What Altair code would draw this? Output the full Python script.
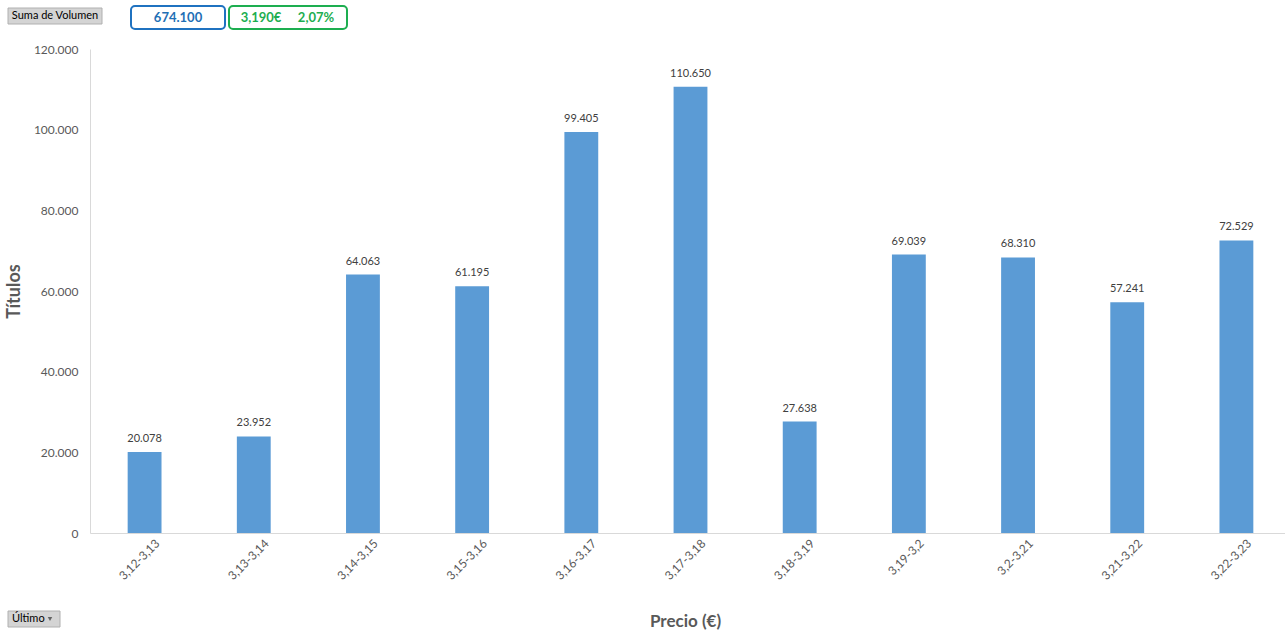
import altair as alt
import pandas as pd

categories = ["3,12-3,13", "3,13-3,14", "3,14-3,15", "3,15-3,16", "3,16-3,17", "3,17-3,18",
              "3,18-3,19", "3,19-3,2", "3,2-3,21", "3,21-3,22", "3,22-3,23"]
volumes = [20078, 23952, 64063, 61195, 99405, 110650, 27638, 69039, 68310, 57241, 72529]
total_label = "674.100"
price_label = "3,190€"
change_label = "2,07%"

df = pd.DataFrame({
    "cat": categories,
    "vol": volumes,
    "lbl": [f"{v:,}".replace(",", ".") for v in volumes],
})

FONT = "Lato"
ox, oy = 90, 49
W, H = 1195, 484

x_enc = alt.X("cat:N", sort=categories, title="Precio (€)",
              scale=alt.Scale(paddingInner=0.69, paddingOuter=0.345, range=[0, 1201]),
              axis=alt.Axis(labelAngle=-45, labelAlign="right", labelBaseline="middle",
                            labelFontSize=12, labelColor="#595959", labelFont=FONT,
                            ticks=False, domainColor="#D9D9D9", labelPadding=8,
                            labelOffset=13,
                            titleFontSize=17, titleColor="#595959", titleFont=FONT,
                            titleFontWeight="bold", titlePadding=32, titleX=595))
y_enc = alt.Y("vol:Q", title="Títulos",
              scale=alt.Scale(domain=[0, 120000], nice=False),
              axis=alt.Axis(values=[0, 20000, 40000, 60000, 80000, 100000, 120000],
                            labelExpr="replace(format(datum.value, ',d'), ',', '.')",
                            labelFontSize=12, labelColor="#595959", labelFont=FONT,
                            ticks=False, grid=False, domainColor="#D9D9D9", labelPadding=12,
                            titleFontSize=18, titleColor="#595959", titleFont=FONT,
                            titleFontWeight="bold", titlePadding=10))

base = alt.Chart(df)
bars = base.mark_bar(color="#5B9BD5").encode(x=x_enc, y=y_enc)
texts = base.mark_text(dy=-13, fontSize=11, color="#404040", font=FONT).encode(
    x=alt.X("cat:N", sort=categories), y="vol:Q", text="lbl:N")

ui = pd.DataFrame({"k": [0]})
u = alt.Chart(ui)

def box(x1, y1, x2, y2, fill, stroke, radius=0, sw=1):
    return u.mark_rect(fill=fill, stroke=stroke, strokeWidth=sw, cornerRadius=radius).encode(
        x=alt.value(x1), x2=alt.value(x2), y=alt.value(y1), y2=alt.value(y2))

def label(x, y, t, color, size=11, weight="normal", align="center"):
    return u.mark_text(text=t, color=color, fontSize=size, fontWeight=weight, font=FONT,
                       align=align, baseline="middle").encode(x=alt.value(x), y=alt.value(y))

layers = [
    box(8 - ox, 8 - oy, 102 - ox, 24 - oy, "#D4D4D4", "#B0B0B0"),
    label(55 - ox, 16 - oy, "Suma de Volumen", "#000000", 11),
    box(131 - ox, 6 - oy, 225 - ox, 29 - oy, "#FFFFFF", "#1F72C0", 4, 2),
    label(178 - ox, 17.5 - oy, total_label, "#1F6FB5", 13, "bold"),
    box(229 - ox, 6 - oy, 347 - ox, 29 - oy, "#FFFFFF", "#1DAE50", 4, 2),
    label(261 - ox, 17.5 - oy, price_label, "#1DAE50", 13, "bold"),
    label(316 - ox, 17.5 - oy, change_label, "#1DAE50", 13, "bold"),
    box(8 - ox, 611 - oy, 60 - ox, 627 - oy, "#D4D4D4", "#B0B0B0"),
    label(12 - ox, 619 - oy, "Último", "#000000", 11, align="left"),
    u.mark_point(shape="triangle-down", filled=True, color="#333333", size=20).encode(
        x=alt.value(50 - ox), y=alt.value(619 - oy)),
]

chart = alt.layer(bars, texts, *layers).properties(
    width=W, height=H,
    autosize=alt.AutoSizeParams(type="none"),
    padding={"left": ox, "top": oy, "right": 1285 - ox - W, "bottom": 632 - oy - H},
    background="#FFFFFF",
).configure_view(stroke=None)

chart.save("out.html", embed_options={"renderer": "svg", "actions": False})
